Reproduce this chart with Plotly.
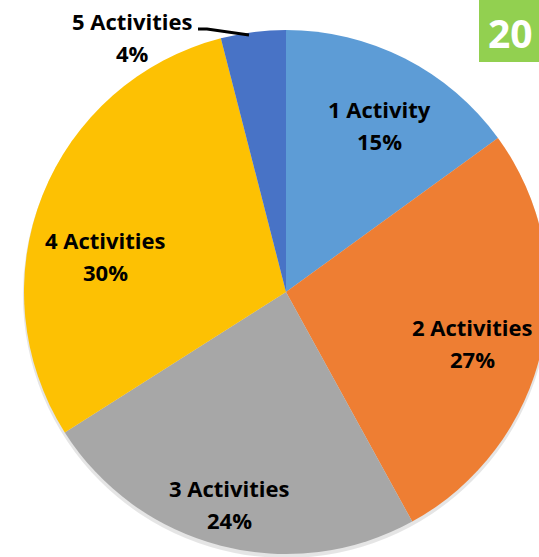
import plotly.graph_objects as go

# ---- data ----
categories = ["1 Activity", "2 Activities", "3 Activities", "4 Activities", "5 Activities"]
shares = [15, 27, 24, 30, 4]
slice_colors = ["#5D9CD6", "#EE7E33", "#A7A7A7", "#FDC103", "#4873C6"]
badge_text = "20"

# ---- geometry (pixels of the visible window) ----
W, H = 572, 584          # figure larger than window so the pie is clipped like the reference
CX, CY, R = 286, 292, 262

def px(x):
    return x / W

def py(y):
    return 1 - y / H

label_centers = [(379, 125), (472, 343), (229, 504), (105, 256), (132, 37)]
half_gap = 16

fig = go.Figure()

# soft shadow behind pie
fig.add_trace(go.Pie(
    values=[1], labels=["shadow"], sort=False, textinfo="none", hoverinfo="skip",
    marker=dict(colors=["rgba(0,0,0,0.10)"], line=dict(width=0)),
    domain=dict(x=[px(CX - R - 3), px(CX + R + 3)], y=[py(CY + R + 4), py(CY - R + 2)]),
    showlegend=False,
))

fig.add_trace(go.Pie(
    labels=categories, values=shares, sort=False, direction="clockwise", rotation=0,
    marker=dict(colors=slice_colors, line=dict(width=0)),
    textinfo="none", hoverinfo="label+percent",
    domain=dict(x=[px(CX - R), px(CX + R)], y=[py(CY + R), py(CY - R)]),
    showlegend=False,
))

font = dict(family="Open Sans", size=22, color="#000000")
for cat, val, (lx, ly) in zip(categories, shares, label_centers):
    fig.add_annotation(x=px(lx), y=py(ly - half_gap), xref="paper", yref="paper",
                       text=f"<b>{cat}</b>", showarrow=False, font=font,
                       xanchor="center", yanchor="middle")
    fig.add_annotation(x=px(lx), y=py(ly + half_gap), xref="paper", yref="paper",
                       text=f"<b>{val}%</b>", showarrow=False, font=font,
                       xanchor="center", yanchor="middle")

# leader line for the small slice
fig.add_shape(type="path", xref="paper", yref="paper",
              path=f"M {px(198)},{py(29)} L {px(207)},{py(29)} L {px(249)},{py(35)}",
              line=dict(color="#000000", width=3))

# green badge at top right
fig.add_shape(type="rect", xref="paper", yref="paper",
              x0=px(479), x1=1.0, y0=py(62), y1=1.0,
              fillcolor="#92D050", line=dict(width=0), layer="above")
fig.add_annotation(x=px(510), y=py(32), xref="paper", yref="paper",
                   text=f"<b>{badge_text}</b>", showarrow=False,
                   font=dict(family="Open Sans", size=39, color="#FFFFFF"),
                   xanchor="center", yanchor="middle")

fig.update_layout(
    width=W, height=H,
    margin=dict(l=0, r=0, t=0, b=0),
    paper_bgcolor="#FFFFFF", plot_bgcolor="#FFFFFF",
    showlegend=False,
)

fig.write_html(
    "out.html",
    config={"displayModeBar": False},
    post_script="document.body.style.margin='0';document.body.style.overflow='hidden';"
                "document.documentElement.style.overflow='hidden';",
)
